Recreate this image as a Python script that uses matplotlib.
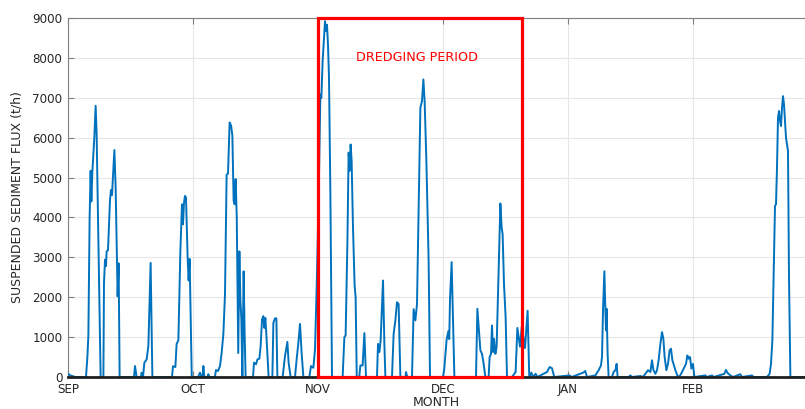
import matplotlib
matplotlib.use("Agg")
import matplotlib.pyplot as plt
from matplotlib.patches import Rectangle

# x position in months since 1 Sep, flux in t/h
month_pos = [
    0.000, 0.019, 0.059, 0.144, 0.155, 0.163, 0.173, 0.181, 0.187, 0.195,
    0.211, 0.221, 0.229, 0.261, 0.283, 0.288, 0.296, 0.304, 0.309, 0.320,
    0.336, 0.344, 0.352, 0.360, 0.371, 0.381, 0.392, 0.397, 0.405, 0.413,
    0.528, 0.536, 0.549, 0.583, 0.589, 0.600, 0.611, 0.629, 0.643, 0.661,
    0.675, 0.832, 0.840, 0.859, 0.869, 0.883, 0.899, 0.912, 0.920, 0.928,
    0.936, 0.944, 0.957, 0.965, 0.973, 0.990,
    1.040, 1.056, 1.070, 1.078, 1.083, 1.090, 1.118, 1.123, 1.130, 1.175,
    1.184, 1.200, 1.216, 1.229, 1.243, 1.256, 1.269, 1.280, 1.293, 1.305,
    1.315, 1.325, 1.333, 1.341, 1.350, 1.362, 1.371, 1.379, 1.387, 1.395,
    1.405, 1.413, 1.421, 1.480, 1.488, 1.504, 1.515, 1.531, 1.541, 1.552,
    1.563, 1.571, 1.579, 1.589, 1.605, 1.635, 1.643, 1.656, 1.667, 1.675,
    1.717, 1.736, 1.755, 1.765, 1.781, 1.816, 1.829, 1.843, 1.856, 1.869,
    1.883, 1.931, 1.944, 1.963, 1.976, 1.989,
    2.005, 2.019, 2.027, 2.037, 2.048, 2.056, 2.064, 2.072, 2.080, 2.088,
    2.099, 2.112, 2.197, 2.211, 2.221, 2.235, 2.245, 2.253, 2.261, 2.269,
    2.280, 2.293, 2.301, 2.310, 2.330, 2.339, 2.357, 2.371, 2.384, 2.472,
    2.480, 2.491, 2.501, 2.520, 2.531, 2.539, 2.592, 2.605, 2.619, 2.632,
    2.645, 2.659, 2.700, 2.704, 2.715, 2.752, 2.765, 2.779, 2.792, 2.805,
    2.819, 2.832, 2.843, 2.853, 2.867, 2.885, 2.896,
    3.000, 3.010, 3.029, 3.043, 3.050, 3.056, 3.069, 3.080, 3.091, 3.264,
    3.275, 3.287, 3.299, 3.312, 3.325, 3.339, 3.365, 3.373, 3.384, 3.392,
    3.400, 3.408, 3.419, 3.429, 3.440, 3.451, 3.459, 3.469, 3.477, 3.488,
    3.501, 3.512, 3.552, 3.571, 3.581, 3.595, 3.616, 3.630, 3.656, 3.677,
    3.690, 3.707, 3.720, 3.741, 3.755, 3.832, 3.853, 3.872, 3.890,
    4.011, 4.030, 4.122, 4.138, 4.152, 4.219, 4.245, 4.264, 4.272, 4.280,
    4.291, 4.299, 4.304, 4.309, 4.317, 4.325, 4.352, 4.365, 4.379, 4.389,
    4.397, 4.485, 4.499, 4.510, 4.580, 4.600, 4.619, 4.640, 4.659, 4.672,
    4.683, 4.699, 4.712, 4.725, 4.739, 4.752, 4.763, 4.773, 4.787, 4.800,
    4.813, 4.824, 4.835, 4.848, 4.859, 4.875, 4.891, 4.912, 4.931, 4.944,
    4.955, 4.965, 4.976, 4.987,
    5.000, 5.011, 5.099, 5.110, 5.152, 5.165, 5.251, 5.264, 5.277, 5.299,
    5.320, 5.379, 5.390, 5.472, 5.485, 5.592, 5.613, 5.624, 5.635, 5.645,
    5.656, 5.664, 5.672, 5.680, 5.688, 5.696, 5.704, 5.712, 5.720, 5.728,
    5.736, 5.744, 5.752, 5.760, 5.768, 5.779, 5.900,
]
flux = [
    80, 40, 0, 0, 500, 1040, 4000, 5170, 4400, 5150,
    6030, 6800, 6100, 0, 0, 2360, 2940, 2780, 3150, 3180,
    4440, 4690, 4560, 5020, 5690, 4770, 2850, 2020, 2850, 0,
    0, 275, 0, 0, 110, 0, 360, 440, 775, 2860,
    0, 0, 270, 250, 830, 920, 3170, 4330, 3830, 4370,
    4540, 4500, 3000, 2420, 2960, 0,
    0, 110, 0, 0, 275, 0, 0, 70, 0, 0,
    175, 150, 275, 600, 1080, 2080, 5070, 5100, 6380, 6300,
    6050, 4420, 4330, 4960, 4020, 600, 3150, 1940, 1440, 0,
    2650, 1100, 0, 0, 360, 320, 440, 460, 775, 1440,
    1525, 1230, 1480, 940, 0, 0, 1360, 1470, 1470, 0,
    0, 525, 880, 360, 0, 0, 440, 860, 1330, 600,
    0, 0, 275, 230, 690, 2190,
    4500, 7080, 7000, 7920, 8500, 8920, 8670, 8830, 8330, 7500,
    4580, 0, 0, 1000, 1040, 3330, 5625, 5170, 5830, 5420,
    3750, 2290, 2000, 0, 0, 290, 290, 1100, 0, 0,
    830, 625, 920, 2420, 830, 0, 0, 1080, 1420, 1875,
    1830, 0, 0, 125, 0, 0, 1700, 1420, 1830, 4170,
    6750, 6920, 7460, 6920, 5420, 2920, 0,
    0, 200, 940, 1150, 950, 1940, 2880, 1440, 0, 0,
    1710, 1170, 670, 580, 330, 0, 0, 500, 580, 1290,
    625, 960, 580, 750, 2080, 3330, 4350, 3750, 3580, 2330,
    1500, 0, 0, 80, 125, 1230, 760, 1260, 725, 1660,
    0, 110, 0, 80, 0, 125, 250, 220, 0,
    40, 0, 110, 150, 0, 40, 170, 290, 500, 1670,
    2650, 1670, 1170, 1710, 580, 0, 0, 125, 170, 330,
    0, 0, 40, 0, 25, 0, 80, 170, 125, 420,
    180, 80, 170, 420, 830, 1125, 960, 500, 170, 330,
    670, 710, 420, 290, 170, 40, 0, 125, 250, 330,
    540, 460, 500, 210,
    330, 0, 40, 0, 40, 0, 80, 180, 100, 40,
    0, 70, 0, 40, 0, 0, 80, 330, 920, 2500,
    4290, 4330, 5250, 6500, 6670, 6420, 6290, 6750, 7040, 6830,
    6420, 6000, 5830, 5670, 2500, 0, 0,
]

month_ticks = [0, 1, 2, 3, 4, 5]
month_labels = ["SEP", "OCT", "NOV", "DEC", "JAN", "FEB"]
y_ticks = [0, 1000, 2000, 3000, 4000, 5000, 6000, 7000, 8000, 9000]
dredging_start, dredging_end = 2.0, 3.632

plt.rcParams['font.family'] = ['DejaVu Sans']

fig = plt.figure(figsize=(8.05, 4.09), dpi=100)
ax = fig.add_axes([68 / 805, 32 / 409, 737 / 805, 359 / 409])

ax.plot(month_pos, flux, color='#0072BD', linewidth=1.4, zorder=3)

# dredging period box
box = Rectangle((dredging_start, 0), dredging_end - dredging_start, 9000,
                fill=False, edgecolor='#ff0000', linewidth=2.3, zorder=6, clip_on=False)
ax.add_patch(box)
ax.text(2.79, 8000, "DREDGING PERIOD", color='#ff0000', fontsize=9.2,
        ha='center', va='center', zorder=7)

ax.set_xlim(0, 5.896)
ax.set_ylim(0, 9000)
ax.set_xticks(month_ticks)
ax.set_xticklabels(month_labels)
ax.set_yticks(y_ticks)

ax.grid(True, color='#e6e6e6', linewidth=0.8)
ax.set_axisbelow(True)
ax.tick_params(axis='both', direction='in', length=4, width=0.8,
               colors='#808080', labelcolor='#262626', labelsize=8.6, top=True)
ax.tick_params(axis='x', pad=4.5)
ax.tick_params(axis='y', pad=4)

for side in ['left', 'top']:
    ax.spines[side].set_color('#808080')
    ax.spines[side].set_linewidth(0.8)
ax.spines['right'].set_visible(False)
ax.spines['bottom'].set_color('#202020')
ax.spines['bottom'].set_linewidth(2.0)
ax.spines['bottom'].set_zorder(5)

ax.set_xlabel("MONTH", fontsize=9, color='#262626', labelpad=0)
ax.set_ylabel("SUSPENDED SEDIMENT FLUX (t/h)", fontsize=9, color='#262626', labelpad=6)

fig.savefig("out.png", dpi=100)
